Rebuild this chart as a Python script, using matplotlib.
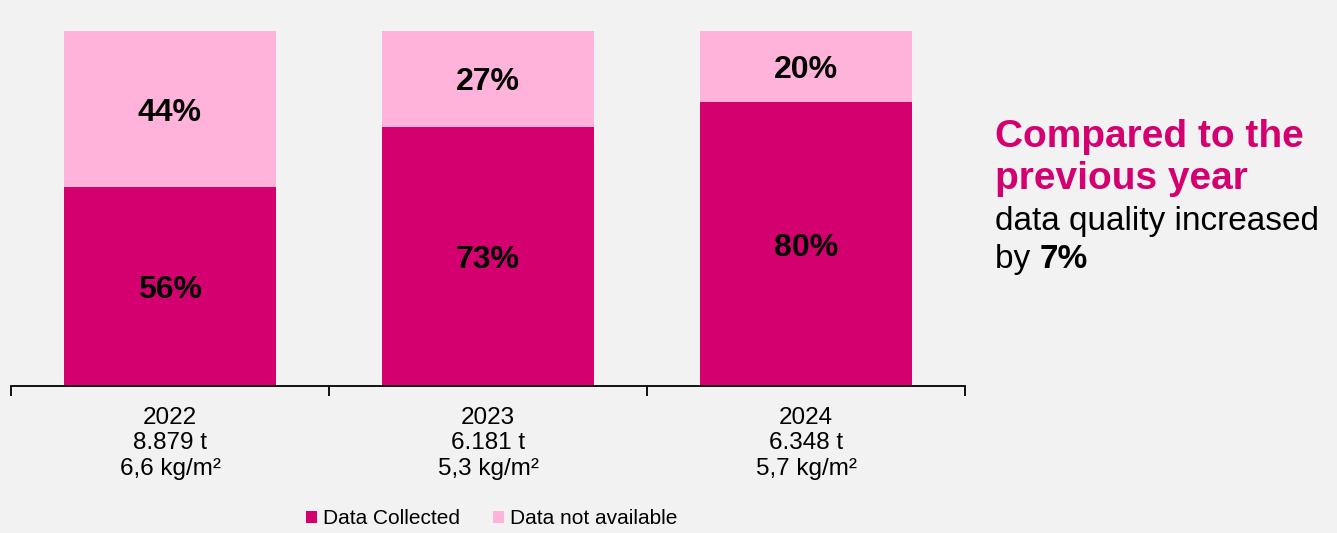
import matplotlib.pyplot as plt
import numpy as np

plt.rcParams['font.family'] = ['Liberation Sans', 'DejaVu Sans']

# data
years = ['2022', '2023', '2024']
tonnes = ['8.879 t', '6.181 t', '6.348 t']
per_m2 = ['6,6 kg/m²', '5,3 kg/m²', '5,7 kg/m²']
collected = [56, 73, 80]
not_available = [44, 27, 20]

dark = '#D4006F'
light = '#FFB3DA'
bg = '#F2F2F2'

fig = plt.figure(figsize=(13.37, 5.33), dpi=100, facecolor=bg)
ax = fig.add_axes([11/1337, 1 - 386/533, (965 - 11)/1337, 355/533])
ax.set_facecolor(bg)

x = np.arange(len(years))
b1 = ax.bar(x, collected, width=0.667, color=dark, label='Data Collected')
b2 = ax.bar(x, not_available, width=0.667, bottom=collected, color=light,
            label='Data not available')

for i in range(len(years)):
    ax.text(x[i], collected[i] / 2, f'{collected[i]}%', ha='center',
            va='center_baseline', fontsize=23, fontweight='bold', color='black')
    ax.text(x[i], collected[i] + not_available[i] / 2, f'{not_available[i]}%',
            ha='center', va='center_baseline', fontsize=23, fontweight='bold',
            color='black')

ax.set_xlim(-0.5, 2.5)
ax.set_ylim(0, 100)
ax.set_yticks([])
for s in ['left', 'right', 'top']:
    ax.spines[s].set_visible(False)
ax.spines['bottom'].set_linewidth(1.3)

# boundary ticks, labels in the middle
ax.set_xticks([-0.5, 0.5, 1.5, 2.5])
ax.set_xticklabels([])
ax.tick_params(axis='x', which='major', length=7, width=1.3, direction='out')
ax.set_xticks(x, minor=True)
ax.set_xticklabels([f'{y}\n{t}\n{m}' for y, t, m in zip(years, tonnes, per_m2)],
                   minor=True, fontsize=17.5, linespacing=1.2)
ax.tick_params(axis='x', which='minor', length=0, pad=15)

leg = fig.legend(handles=[b1, b2], loc='center', bbox_to_anchor=(492/1337, 1 - 519/533),
                 ncol=2, frameon=False, fontsize=15, handlelength=0.5,
                 handleheight=0.5, handletextpad=0.3, columnspacing=1.6)

# side note
tx = 995/1337
fig.text(tx, 1 - 147/533, 'Compared to the', color=dark, fontsize=28,
         fontweight='bold', va='baseline', ha='left')
fig.text(tx, 1 - 189/533, 'previous year', color=dark, fontsize=28,
         fontweight='bold', va='baseline', ha='left')
fig.text(tx, 1 - 230/533, 'data quality increased', color='black',
         fontsize=24, va='baseline', ha='left')
by = fig.text(tx, 1 - 268/533, 'by ', color='black', fontsize=24,
              va='baseline', ha='left')
ax.annotate('7%', xy=(1, 0), xycoords=by, va='bottom', ha='left', fontsize=24,
            fontweight='bold', color='black', annotation_clip=False)

fig.savefig('out.png', dpi=100, facecolor=bg)
